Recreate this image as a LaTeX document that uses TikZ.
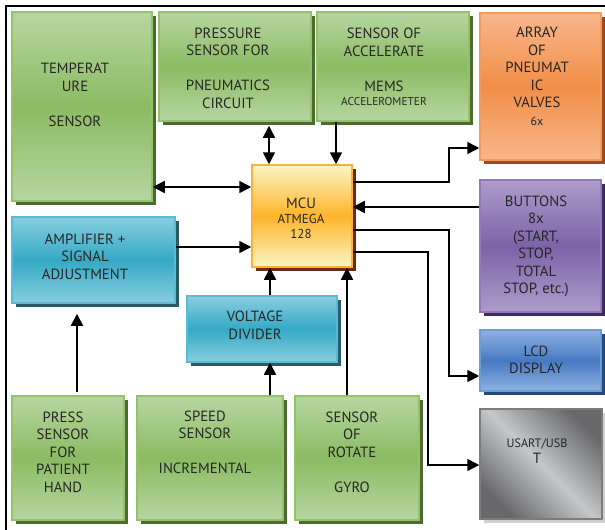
\documentclass[tikz,border=0pt]{standalone}
\usepackage{fontspec}
\setmainfont{PT Sans}
\usetikzlibrary{arrows.meta,shadows}
\definecolor{txt}{HTML}{262626}
\definecolor{grL}{HTML}{B6D6A1}
\definecolor{grM}{HTML}{8CBB62}
\definecolor{grB}{HTML}{92C36C}
\definecolor{grS}{HTML}{4E6A30}
\definecolor{tlL}{HTML}{88CEDF}
\definecolor{tlM}{HTML}{35A9C6}
\definecolor{tlB}{HTML}{5ABBD3}
\definecolor{tlS}{HTML}{2A5A68}
\definecolor{orL}{HTML}{F8B68C}
\definecolor{orM}{HTML}{F28E47}
\definecolor{orB}{HTML}{F39A5C}
\definecolor{orS}{HTML}{9C4A22}
\definecolor{puL}{HTML}{AE9CCB}
\definecolor{puM}{HTML}{7C62A8}
\definecolor{puB}{HTML}{9179BA}
\definecolor{puS}{HTML}{3D2D58}
\definecolor{blL}{HTML}{8DB2E2}
\definecolor{blM}{HTML}{4779C2}
\definecolor{blB}{HTML}{6C9BD6}
\definecolor{blS}{HTML}{2A4876}
\definecolor{yeL}{HTML}{FBF5C4}
\definecolor{yeM}{HTML}{FDB52A}
\definecolor{yeB}{HTML}{FBB03B}
\definecolor{yeS}{HTML}{6A2A1A}
\definecolor{gyL}{HTML}{C6C7C9}
\definecolor{gyD}{HTML}{68686B}
\definecolor{gyB}{HTML}{7C7C7E}
\definecolor{gyS}{HTML}{CFCFCF}
\begin{document}
\begin{tikzpicture}[x=1pt,y=-1pt,
  base/.style={line width=1.5pt, inner sep=0pt},
  greenbox/.style={base, draw=grB, top color=grL, bottom color=grL, middle color=grM,
    general shadow={fill=grS, shadow xshift=3.5pt, shadow yshift=-3.5pt}},
  tealbox/.style={base, draw=tlB, top color=tlL, bottom color=tlL, middle color=tlM,
    general shadow={fill=tlS, shadow xshift=3.5pt, shadow yshift=-3.5pt}},
  orangebox/.style={base, draw=orB, top color=orL, bottom color=orL, middle color=orM,
    general shadow={fill=orS, shadow xshift=3.5pt, shadow yshift=-3.5pt}},
  purplebox/.style={base, draw=puB, top color=puL, bottom color=puL, middle color=puM,
    general shadow={fill=puS, shadow xshift=3.5pt, shadow yshift=-3.5pt}},
  bluebox/.style={base, draw=blB, top color=blL, bottom color=blL, middle color=blM,
    general shadow={fill=blS, shadow xshift=3.5pt, shadow yshift=-3.5pt}},
  mcubox/.style={base, draw=yeB, top color=yeL, bottom color=yeL, middle color=yeM,
    general shadow={fill=yeS, shadow xshift=3.5pt, shadow yshift=-3.5pt}},
  graybox/.style={base, draw=gyB, left color=gyD, right color=gyD, middle color=gyL, shading angle=135,
    general shadow={fill=gyS, shadow xshift=3.5pt, shadow yshift=-3.5pt}},
  lbl/.style={align=center, inner sep=0pt, text=txt, font=\fontsize{14.8}{17.5}\selectfont},
  arr/.style={line width=1.6pt, -{Triangle[length=12pt,width=12pt]}},
  dbl/.style={line width=1.6pt, {Triangle[length=12pt,width=12pt]}-{Triangle[length=12pt,width=12pt]}}
]
\useasboundingbox (0,0) rectangle (605,530);
\fill[white] (0,0) rectangle (605,530);
\draw[line width=1.5pt] (6,530) -- (6,6) -- (605,6);

% boxes
\node[greenbox, minimum width=140pt, minimum height=189pt] (temp) at (82,106.5) {};
\node[greenbox, minimum width=152pt, minimum height=109pt] (press) at (235,66.5) {};
\node[greenbox, minimum width=152pt, minimum height=109pt] (accel) at (393,66.5) {};
\node[orangebox, minimum width=121pt, minimum height=147pt] (valves) at (540.5,86.5) {};
\node[mcubox, minimum width=100pt, minimum height=102pt] (mcu) at (302,216) {};
\node[tealbox, minimum width=163pt, minimum height=86pt] (amp) at (93.5,260) {};
\node[tealbox, minimum width=150pt, minimum height=66pt] (volt) at (262,329) {};
\node[purplebox, minimum width=121pt, minimum height=132pt] (buttons) at (540.5,246) {};
\node[bluebox, minimum width=121pt, minimum height=61pt] (lcd) at (540.5,360.5) {};
\node[graybox, minimum width=122pt, minimum height=110pt] (usart) at (541,464) {};
\node[greenbox, minimum width=112pt, minimum height=124pt] (patient) at (68,458) {};
\node[greenbox, minimum width=146pt, minimum height=124pt] (speed) at (210,458) {};
\node[greenbox, minimum width=124pt, minimum height=124pt] (rotate) at (357,458) {};

% labels
\node[lbl] (tempL) at (75,95) {TEMPERAT\\URE\\[17.5pt]SENSOR};
\node[lbl] (pressL) at (228,68) {PRESSURE\\SENSOR FOR\\[17.5pt]PNEUMATICS\\CIRCUIT};
\node[lbl] (accelL) at (384,67) {SENSOR OF\\ACCELERATE\\[17.5pt]MEMS\\[-3.5pt]{\fontsize{11.4}{12}\selectfont ACCELEROMETER}};
\node[lbl] (valvesL) at (537,76.5) {ARRAY\\OF\\PNEUMAT\\IC\\VALVES\\{\fontsize{12}{12}\selectfont 6x}};
\node[lbl] (mcuL) at (301,218) {MCU\\[-2pt]{\fontsize{13}{14}\selectfont ATMEGA}\\[-3pt]{\fontsize{13}{14}\selectfont 128}};
\node[lbl] (ampL) at (85,256.5) {AMPLIFIER +\\SIGNAL\\ADJUSTMENT};
\node[lbl] (voltL) at (255,325.5) {VOLTAGE\\DIVIDER};
\node[lbl] (buttonsL) at (536,246.5) {BUTTONS\\8x\\(START,\\STOP,\\TOTAL\\STOP, etc.)};
\node[lbl] (lcdL) at (536,360) {LCD\\DISPLAY};
\node[lbl] (usartL) at (537,451) {{\fontsize{12.2}{13}\selectfont USART/USB}\\[-1pt]T};
\node[lbl] (patientL) at (63,452) {PRESS\\SENSOR\\FOR\\PATIENT\\HAND};
\node[lbl] (speedL) at (205,442.5) {SPEED\\SENSOR\\[17.5pt]INCREMENTAL};
\node[lbl] (rotateL) at (352,452) {SENSOR\\OF\\ROTATE\\[17.5pt]GYRO};

% routing coordinates
\coordinate (cPM) at (269,0);
\coordinate (cAM) at (336,0);
\coordinate (cVM) at (270,0);
\coordinate (cRM) at (347,0);
\coordinate (cPA) at (77,0);
\coordinate (rTM) at (0,187);
\coordinate (rAM) at (0,247);
\coordinate (rMV) at (0,182);
\coordinate (rB) at (0,207);
\coordinate (rML) at (0,230);
\coordinate (rMU) at (0,252);
\coordinate (kV) at (449,148);
\coordinate (kL) at (449,376);
\coordinate (kU) at (428,465);

% connectors
\draw[dbl, shorten <=4pt] (press.south -| cPM) -- (mcu.north -| cPM);
\draw[arr] (accel.south -| cAM) -- (mcu.north -| cAM);
\draw[dbl] (temp.east |- rTM) -- (mcu.west |- rTM);
\draw[arr] (amp.east |- rAM) -- (mcu.west |- rAM);
\draw[arr] (mcu.east |- rMV) -| (kV) -- (valves.west |- kV);
\draw[arr] (buttons.west |- rB) -- (mcu.east |- rB);
\draw[arr] (mcu.east |- rML) -| (kL) -- (lcd.west |- kL);
\draw[arr] (mcu.east |- rMU) -| (kU) -- (usart.west |- kU);
\draw[arr] (volt.north -| cVM) -- (mcu.south -| cVM);
\draw[arr] (speed.north -| cVM) -- (volt.south -| cVM);
\draw[arr] (rotate.north -| cRM) -- (mcu.south -| cRM);
\draw[arr, shorten <=3pt, shorten >=10pt] (patient.north -| cPA) -- (amp.south -| cPA);
\end{tikzpicture}
\end{document}
